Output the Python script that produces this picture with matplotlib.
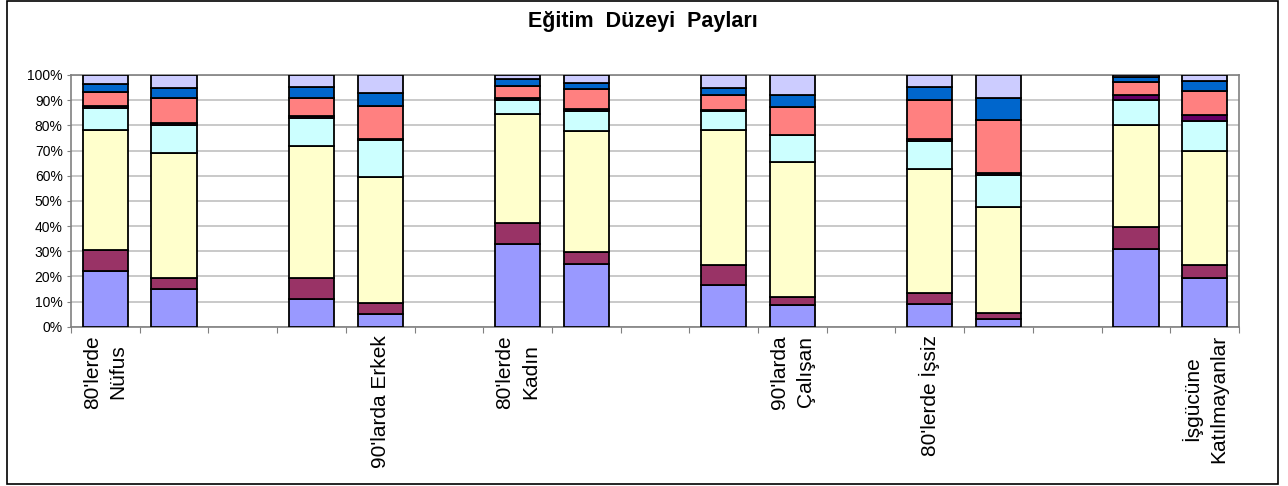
import matplotlib.pyplot as plt
import matplotlib.patches as mpatches
import numpy as np

plt.rcParams["font.family"] = ["Liberation Sans", "DejaVu Sans"]

# kategoriler (17 dilim, boşluklar dahil)
kategoriler = [
    "80'lerde\nNüfus", "90'larda Nüfus", "",
    "80'lerde Erkek", "90'larda Erkek", "",
    "80'lerde\nKadın", "90'larda Kadın", "",
    "80'lerde Çalışan", "90'larda\nÇalışan", "",
    "80'lerde İşsiz", "90'larda İşsiz", "",
    "80'lerde İşgücüne Katılmayanlar", "İşgücüne\nKatılmayanlar",
]
dolu = [0, 1, 3, 4, 6, 7, 9, 10, 12, 13, 15, 16]

seriler = [
    "Okuma yazma bilmeyen", "Okur yazar", "İlkokul", "Ortaokul",
    "Ortaokul dengi meslek", "Lise", "Lise dengi meslek", "Yüksekokul ve üstü",
]
renkler = ["#9999FF", "#993366", "#FFFFCC", "#CCFFFF",
           "#660066", "#FF8080", "#0066CC", "#CCCCFF"]

# kümülatif paylar (%) - her çubuk için seri sınırları
kumulatif = [
    [22.1, 30.6, 78.3, 87.0, 87.8, 93.4, 96.3, 100],
    [15.1, 19.5, 68.9, 80.0, 81.0, 91.0, 95.0, 100],
    [10.9, 19.5, 71.8, 82.9, 83.9, 90.9, 95.1, 100],
    [4.9, 9.3, 59.3, 74.3, 74.6, 87.8, 92.7, 100],
    [33.0, 41.2, 84.5, 90.1, 91.0, 95.5, 98.4, 100],
    [25.0, 29.8, 77.6, 85.6, 86.5, 94.3, 96.8, 100],
    [16.4, 24.5, 78.3, 85.7, 86.0, 92.2, 95.0, 100],
    [8.6, 11.7, 65.6, 76.0, 76.3, 87.2, 92.2, 100],
    [8.9, 13.2, 62.5, 73.6, 74.6, 90.2, 95.1, 100],
    [3.2, 5.3, 47.7, 60.3, 61.2, 82.3, 91.0, 100],
    [30.7, 39.5, 80.1, 90.1, 91.9, 97.4, 99.1, 100],
    [19.5, 24.6, 69.9, 81.6, 84.2, 93.6, 97.6, 100],
]


def ciz():
    fig = plt.figure(figsize=(12.88, 4.86), dpi=100)
    ax = fig.add_axes([71 / 1288, 1 - 326.7 / 486, 1168 / 1288, 251.7 / 486])

    kum = np.array(kumulatif)
    alt = np.hstack([np.zeros((len(kum), 1)), kum[:, :-1]])
    for i, ad in enumerate(seriler):
        ax.bar(dolu, kum[:, i] - alt[:, i], bottom=alt[:, i], width=0.66,
               color=renkler[i], edgecolor="black", linewidth=1.3,
               label=ad, zorder=3)

    ax.set_xlim(-0.5, len(kategoriler) - 0.5)
    ax.set_ylim(0, 100)
    ax.set_yticks(range(0, 101, 10))
    ax.set_yticklabels([f"{v}%" for v in range(0, 101, 10)], fontsize=10)
    ax.yaxis.grid(True, color="#C0C0C0", linewidth=1.2, zorder=0)
    ax.set_axisbelow(True)

    ax.set_xticks(np.arange(-0.5, len(kategoriler), 1))
    ax.set_xticklabels([])
    ax.set_xticks(range(0, len(kategoriler), 2), minor=True)
    ax.set_xticklabels(kategoriler[::2], minor=True, rotation=90,
                       fontsize=15, va="top", ha="center",
                       multialignment="center", linespacing=1.45)
    ax.tick_params(axis="x", which="major", length=4, color="#808080")
    ax.tick_params(axis="x", which="minor", length=0, pad=6)
    ax.tick_params(axis="y", length=3, color="#808080", pad=3)

    for s in ax.spines.values():
        s.set_color("#808080")
        s.set_linewidth(1.2)

    fig.text(643 / 1288, 1 - 21 / 486, "Eğitim  Düzeyi  Payları",
             fontsize=15.5, fontweight="bold", ha="center", va="center")

    cerceve = mpatches.Rectangle((7 / 1288, 1 - 484 / 486), 1271 / 1288,
                                 483 / 486, transform=fig.transFigure,
                                 fill=False, edgecolor="black", linewidth=1.2)
    fig.patches.append(cerceve)

    fig.savefig("out.png", dpi=100)


if __name__ == "__main__":
    ciz()
